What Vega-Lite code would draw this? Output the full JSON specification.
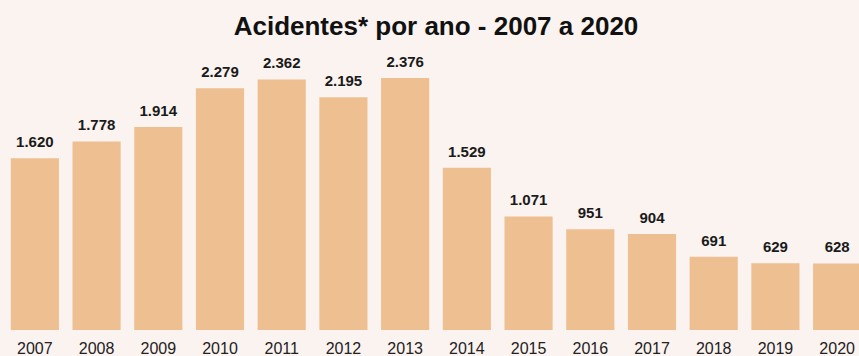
{
  "$schema": "https://vega.github.io/schema/vega-lite/v6.json",
  "autosize": "none",
  "width": 864,
  "height": 280,
  "padding": {"left": 4, "top": 50, "right": 0, "bottom": 26},
  "background": "#fbf3f0",
  "title": {"text": "Acidentes* por ano - 2007 a 2020", "fontSize": 26, "font": "Liberation Sans", "fontWeight": "bold", "color": "#111111", "anchor": "middle", "offset": 10},
  "config": {
    "view": {"stroke": null},
    "locale": {"number": {"decimal": ",", "thousands": ".", "grouping": [3], "currency": ["R$", ""]}}
  },
  "data": {"values": [
    {"ano": "2007", "acidentes": 1620},
    {"ano": "2008", "acidentes": 1778},
    {"ano": "2009", "acidentes": 1914},
    {"ano": "2010", "acidentes": 2279},
    {"ano": "2011", "acidentes": 2362},
    {"ano": "2012", "acidentes": 2195},
    {"ano": "2013", "acidentes": 2376},
    {"ano": "2014", "acidentes": 1529},
    {"ano": "2015", "acidentes": 1071},
    {"ano": "2016", "acidentes": 951},
    {"ano": "2017", "acidentes": 904},
    {"ano": "2018", "acidentes": 691},
    {"ano": "2019", "acidentes": 629},
    {"ano": "2020", "acidentes": 628}
  ]},
  "encoding": {
    "x": {"field": "ano", "type": "ordinal", "scale": {"paddingInner": 0.22, "paddingOuter": 0.11},
      "axis": {"title": null, "labelAngle": 0, "domain": false, "ticks": false, "labelPadding": 10, "labelFontSize": 16, "labelFont": "Liberation Sans", "labelColor": "#222222"}},
    "y": {"field": "acidentes", "type": "quantitative", "scale": {"domain": [0, 2640], "nice": false}, "axis": null}
  },
  "layer": [
    {"mark": {"type": "bar", "color": "#eebf90"}},
    {"mark": {"type": "text", "baseline": "bottom", "dy": -8, "fontSize": 15, "fontWeight": "bold", "font": "Liberation Sans", "color": "#1a1a1a"},
     "encoding": {"text": {"field": "acidentes", "type": "quantitative", "format": ",d"}}}
  ]
}
